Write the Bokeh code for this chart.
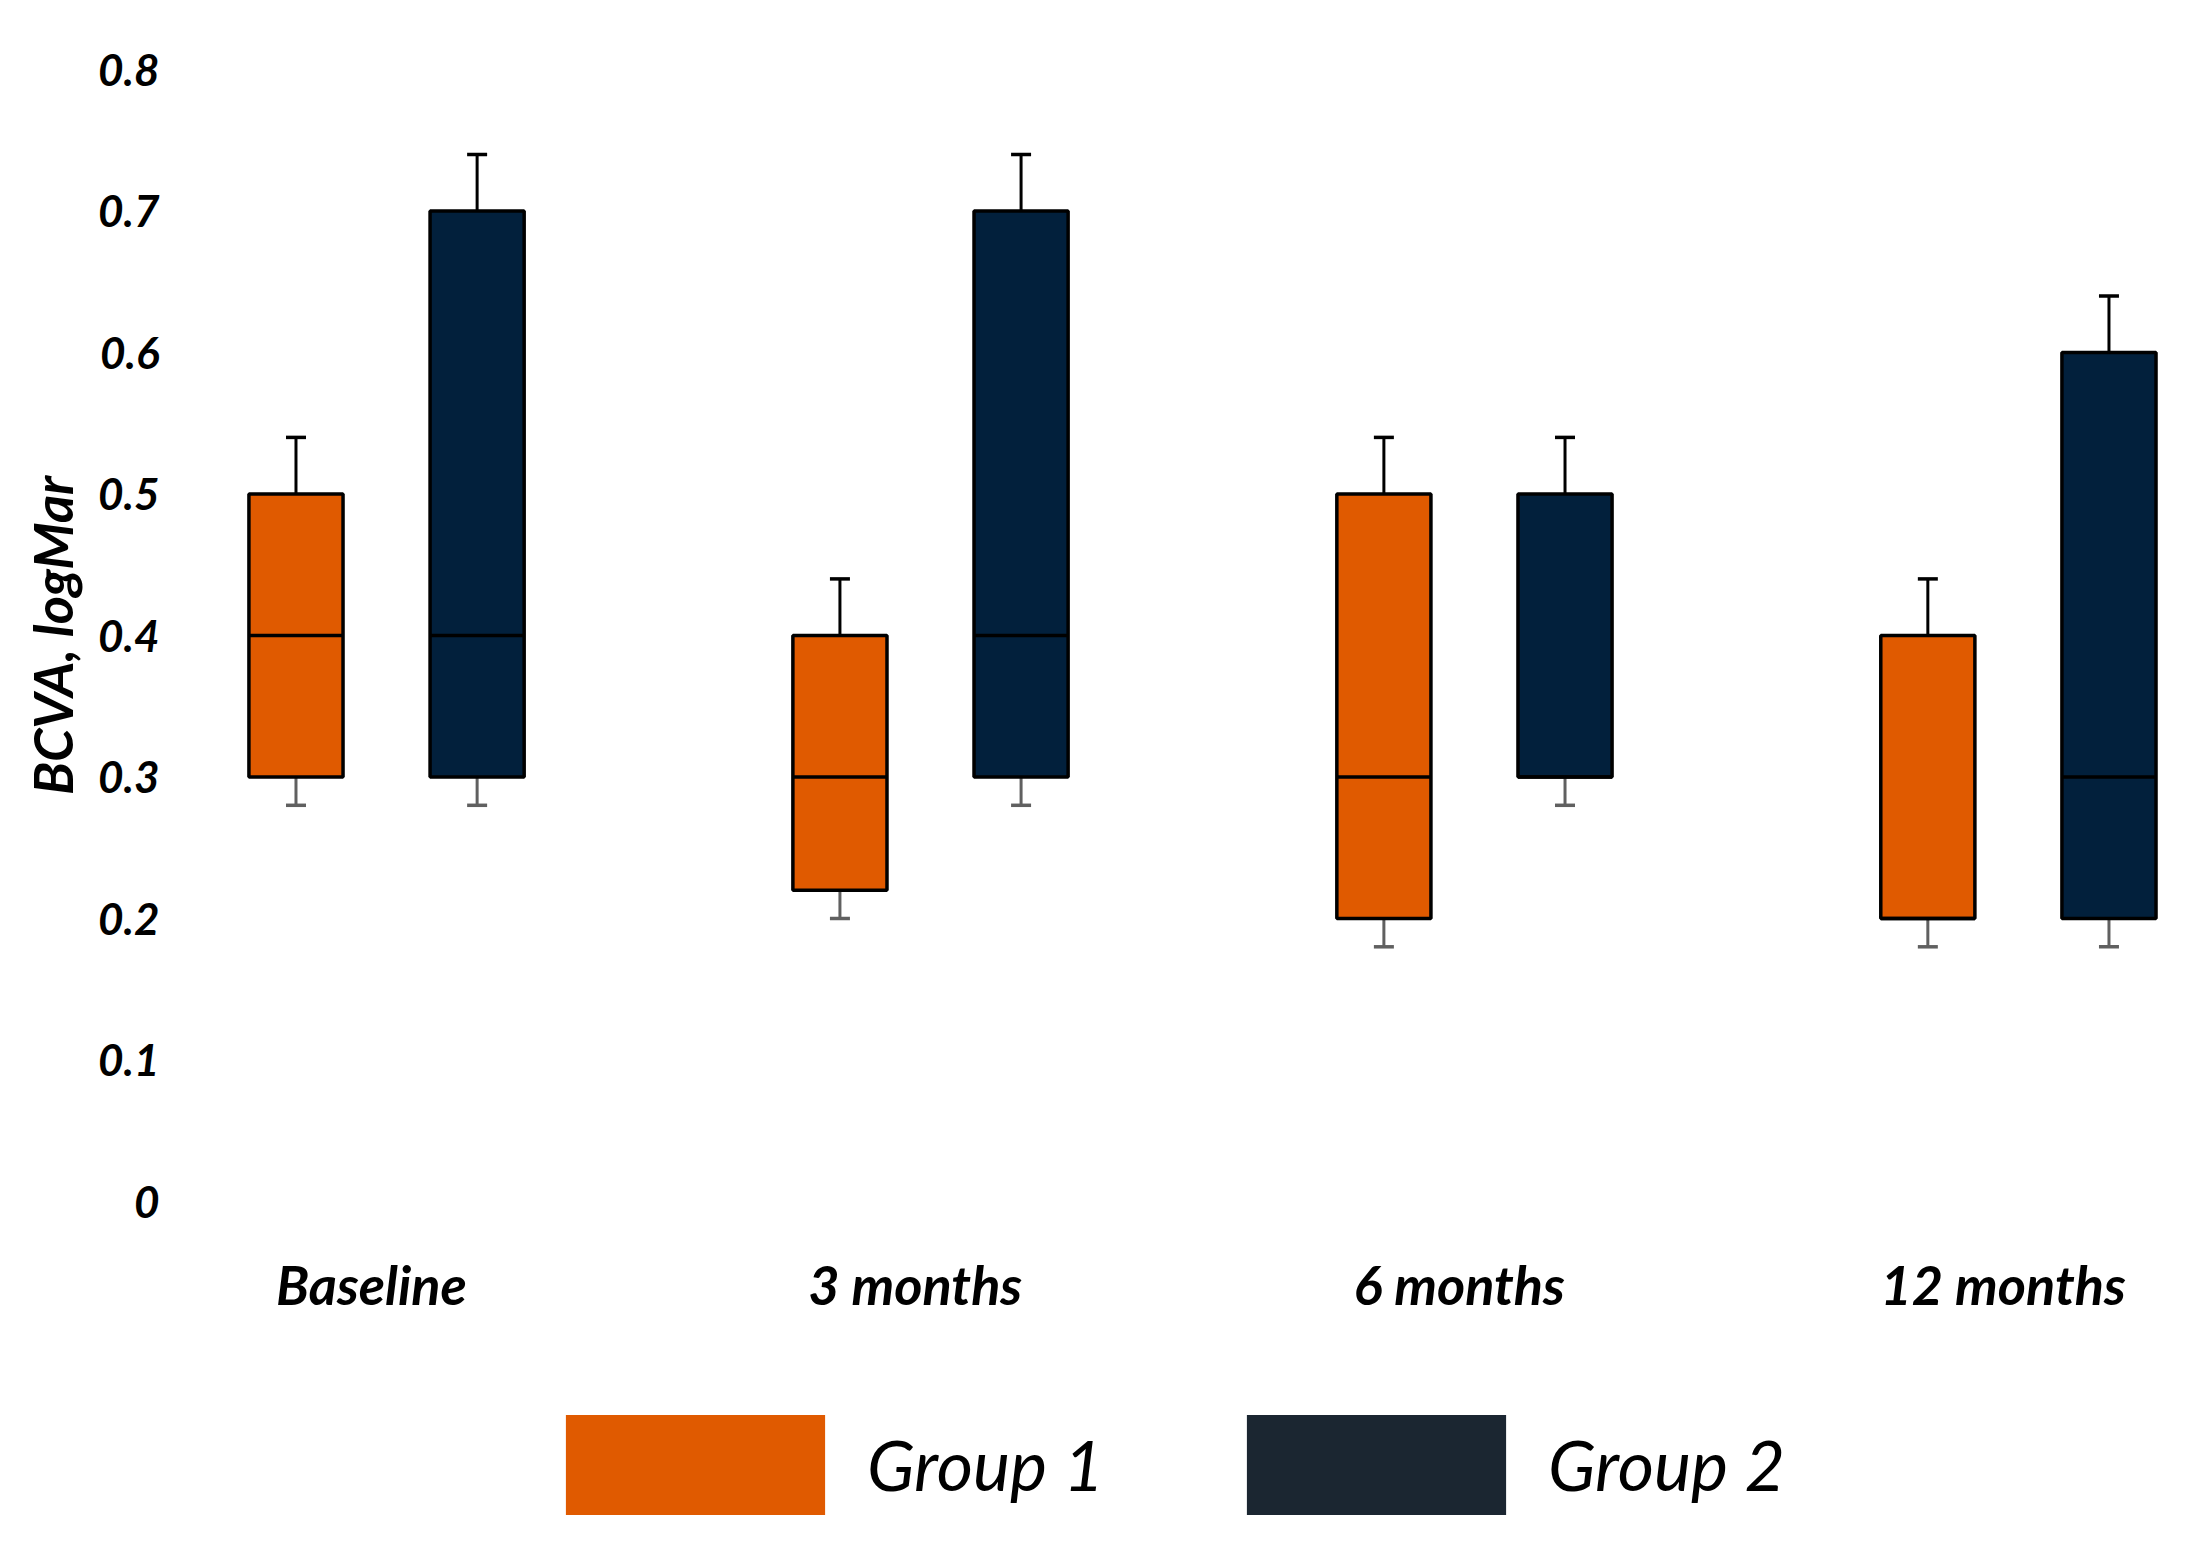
from bokeh.plotting import figure
from bokeh.layouts import column
from bokeh.models import (ColumnDataSource, Range1d, FixedTicker, NumeralTickFormatter,
                          Whisker, TeeHead, Legend, LegendItem)
from bokeh.embed import file_html
from bokeh.resources import INLINE

# ---- data ----
categories = ["Baseline", "3 months", "6 months", "12 months"]
y_ticks = [0, 0.1, 0.2, 0.3, 0.4, 0.5, 0.6, 0.7, 0.8]
groups = ["Group 1", "Group 2"]

g1_q1 = [0.30, 0.22, 0.20, 0.20]
g1_median = [0.40, 0.30, 0.30, 0.20]
g1_q3 = [0.50, 0.40, 0.50, 0.40]
g1_low = [0.28, 0.20, 0.18, 0.18]
g1_high = [0.54, 0.44, 0.54, 0.44]

g2_q1 = [0.30, 0.30, 0.30, 0.20]
g2_median = [0.40, 0.40, 0.30, 0.30]
g2_q3 = [0.70, 0.70, 0.50, 0.60]
g2_low = [0.28, 0.28, 0.28, 0.18]
g2_high = [0.74, 0.74, 0.54, 0.64]

# ---- style ----
FONT = "Lato"
G1_COLOR = "#E05A00"
G2_COLOR = "#02203C"
G1_LEGEND = "#E05A00"
G2_LEGEND = "#1B2631"
LOW_COLOR = "#606060"
OFFSET = 0.1665
BOX_W = 0.173
LABEL_SHIFT = -0.028

p = figure(width=2193, height=1380, output_backend="svg", toolbar_location=None,
           x_range=Range1d(-0.388, 3.298), y_range=Range1d(0, 0.8),
           min_border_left=175, min_border_right=13, min_border_top=69,
           min_border_bottom=179)
p.outline_line_color = None
p.xgrid.visible = False
p.ygrid.visible = False
p.background_fill_color = "white"

idx = list(range(len(categories)))

def draw_group(fig, q1, med, q3, low, high, color, sign):
    xs = [i + sign * OFFSET for i in idx]
    up = ColumnDataSource(dict(base=xs, lower=q3, upper=high))
    fig.add_layout(Whisker(source=up, base="base", lower="lower", upper="upper",
                           dimension="height", line_color="black", line_width=3,
                           lower_head=None,
                           upper_head=TeeHead(size=20, line_color="black", line_width=3.5)))
    lo = ColumnDataSource(dict(base=xs, lower=low, upper=q1))
    fig.add_layout(Whisker(source=lo, base="base", lower="lower", upper="upper",
                           dimension="height", line_color=LOW_COLOR, line_width=3,
                           upper_head=None,
                           lower_head=TeeHead(size=20, line_color=LOW_COLOR, line_width=3.5)))
    src = ColumnDataSource(dict(x=xs, q1=q1, q3=q3, med=med,
                                x0=[x - BOX_W / 2 for x in xs],
                                x1=[x + BOX_W / 2 for x in xs]))
    fig.vbar(x="x", width=BOX_W, bottom="q1", top="q3", source=src,
             fill_color=color, line_color="black", line_width=3.5)
    fig.segment(x0="x0", x1="x1", y0="med", y1="med", source=src,
                line_color="black", line_width=3.5)
    return src

src1 = draw_group(p, g1_q1, g1_median, g1_q3, g1_low, g1_high, G1_COLOR, -1)
src2 = draw_group(p, g2_q1, g2_median, g2_q3, g2_low, g2_high, G2_COLOR, +1)

# ---- axes ----
ya = p.yaxis[0]
ya.ticker = FixedTicker(ticks=y_ticks)
ya.formatter = NumeralTickFormatter(format="0.[0]")
ya.axis_line_color = None
ya.major_tick_line_color = None
ya.minor_tick_line_color = None
ya.major_label_text_font = FONT
ya.major_label_text_font_style = "bold italic"
ya.major_label_text_font_size = "44px"
ya.major_label_text_color = "black"
ya.major_label_standoff = 10
ya.axis_label = "BCVA, logMar"
ya.axis_label_text_font = FONT
ya.axis_label_text_font_style = "bold italic"
ya.axis_label_text_font_size = "54px"
ya.axis_label_text_color = "black"
ya.axis_label_standoff = 10

tick_pos = [i + LABEL_SHIFT for i in idx]
xa = p.xaxis[0]
xa.ticker = FixedTicker(ticks=tick_pos)
xa.major_label_overrides = {t: c for t, c in zip(tick_pos, categories)}
xa.axis_line_color = None
xa.major_tick_line_color = None
xa.minor_tick_line_color = None
xa.major_label_text_font = FONT
xa.major_label_text_font_style = "bold italic"
xa.major_label_text_font_size = "54px"
xa.major_label_text_color = "black"
xa.major_label_standoff = 44

# ---- legend (separate strip below the chart) ----
# proxies carry the group data; the strip's y range keeps them out of view
pl = figure(width=2193, height=150, output_backend="svg", toolbar_location=None,
            x_range=Range1d(-0.388, 3.298), y_range=Range1d(10, 11),
            x_axis_location=None, y_axis_location=None, min_border=0)
pl.outline_line_color = None
pl.xgrid.visible = False
pl.ygrid.visible = False

r1 = pl.vbar(x="x", width=BOX_W, bottom="q1", top="q3", source=src1,
             fill_color=G1_LEGEND, line_alpha=0)
r2 = pl.vbar(x="x", width=BOX_W, bottom="q1", top="q3", source=src2,
             fill_color=G2_LEGEND, line_alpha=0)
legend = Legend(items=[LegendItem(label=groups[0], renderers=[r1]),
                       LegendItem(label=groups[1], renderers=[r2])],
                orientation="horizontal", location=(358, 3.5),
                glyph_width=324, glyph_height=125, label_standoff=10,
                spacing=110, padding=0, margin=0,
                border_line_color=None, background_fill_alpha=0,
                label_text_font=FONT, label_text_font_style="italic",
                label_text_font_size="70px", label_text_color="black")
pl.add_layout(legend, "center")

layout = column(p, pl, spacing=0)
open("out.html", "w").write(file_html(layout, INLINE))
